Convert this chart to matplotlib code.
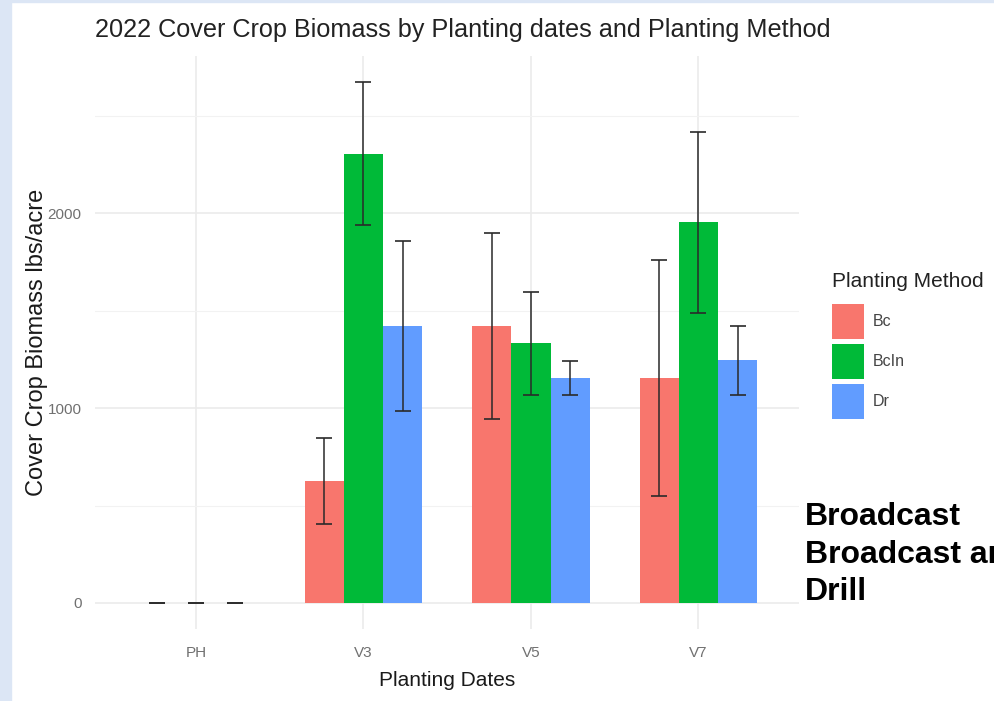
import numpy as np
import matplotlib
matplotlib.use('agg')
import matplotlib.pyplot as plt
from matplotlib.patches import Rectangle

plt.rcParams['font.family'] = ['Liberation Sans', 'DejaVu Sans']

# biomass means and standard deviations (lbs/acre)
dates = ['PH', 'V3', 'V5', 'V7']
methods = ['Bc', 'BcIn', 'Dr']
bc_mean = [0, 625, 1421, 1154]
bc_sd = [0, 222, 477, 605]
bcin_mean = [0, 2308, 1333, 1954]
bcin_sd = [0, 367, 264, 467]
dr_mean = [0, 1421, 1154, 1246]
dr_sd = [0, 436, 87, 177]
method_names = ['Broadcast', 'Broadcast and Incorporated', 'Drill']

means = [bc_mean, bcin_mean, dr_mean]
sds = [bc_sd, bcin_sd, dr_sd]
cols = ['#F8766D', '#00BA38', '#619CFF']

W, H = 995, 701
fig = plt.figure(figsize=(W/100, H/100), dpi=100)

# light blue slide border
fig.patches.append(Rectangle((0, 0), 11/W, 1, transform=fig.transFigure, color='#dce6f5', zorder=0))
fig.patches.append(Rectangle((0, 1-2/H), 1, 2/H, transform=fig.transFigure, color='#dce6f5', zorder=0))

ax = fig.add_axes([95.5/W, 72/H, 703.5/W, 573/H])

x = np.arange(len(dates))
bw = 0.7/3
for k in range(3):
	xs = x + (k-1)*bw
	ax.bar(xs, means[k], width=bw, color=cols[k], label=methods[k], zorder=2)
	ax.errorbar(xs, means[k], yerr=sds[k], fmt='none', ecolor='#2a2a2a', elinewidth=1.1,
		capsize=5.5, capthick=1.2, zorder=3)

top = max(max(np.array(m)+np.array(s)) for m, s in zip(means, sds))
ax.set_ylim(-0.05*top, 1.05*top)
ax.set_xlim(-0.6, len(dates)-0.4)
ax.set_xticks(x)
ax.set_xticklabels(dates)
ax.set_yticks([0, 1000, 2000])
ax.set_yticks([500, 1500, 2500], minor=True)
ax.grid(which='major', color='#ebebeb', lw=1.2, zorder=0)
ax.grid(which='minor', axis='y', color='#f2f2f2', lw=0.8, zorder=0)
for s in ax.spines.values():
	s.set_visible(False)
ax.tick_params(which='both', length=0)
ax.tick_params(axis='x', pad=12, labelsize=11, labelcolor='#707070')
ax.tick_params(axis='y', pad=10, labelsize=11, labelcolor='#707070')

ax.set_xlabel('Planting Dates', fontsize=15, color='#1a1a1a', labelpad=8)
ax.set_ylabel('Cover Crop Biomass lbs/acre', fontsize=17, color='#1a1a1a')
ax.yaxis.set_label_coords((48-95.5)/703.5, 0.5)

fig.text(95/W, 1-30/H, '2022 Cover Crop Biomass by Planting dates and Planting Method',
	fontsize=18.2, color='#222222', va='center', ha='left')

leg = ax.legend(title='Planting Method', loc='upper left', bbox_to_anchor=(818/W, 1-258/H),
	bbox_transform=fig.transFigure, frameon=False, fontsize=11.5, title_fontsize=15,
	handlelength=1.95, handleheight=3.0, labelspacing=0.3, handletextpad=0.55, alignment='left')
leg._legend_box.sep = 9
for t in leg.get_texts():
	t.set_color('#444444')
leg.get_title().set_color('#222222')

for i, name in enumerate(method_names):
	fig.text(805/W, 1-(525+37.5*i)/H, name, fontsize=23, fontweight='bold', color='black',
		va='baseline', ha='left')

fig.savefig('out.png', dpi=100, facecolor='white')
